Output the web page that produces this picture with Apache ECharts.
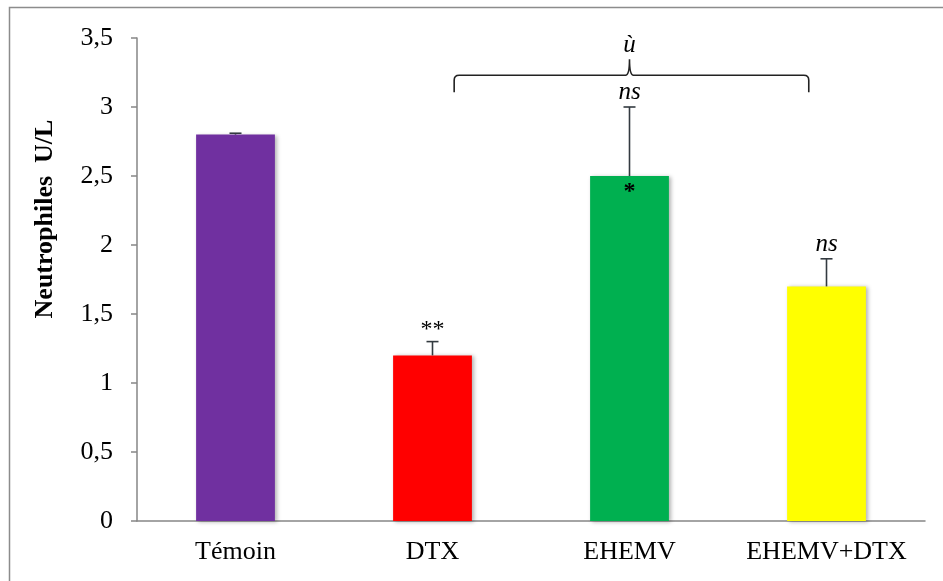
<!DOCTYPE html>
<html>
<head>
<meta charset="utf-8">
<script src="https://cdn.jsdelivr.net/npm/echarts@6/dist/echarts.min.js"></script>
<style>
  html, body { margin: 0; padding: 0; background: #fff; }
  #chart { width: 943px; height: 581px; }
</style>
</head>
<body>
<div id="chart"></div>
<script>
// Neutrophil counts per group (U/L) with upper error bars
var categories = ['Témoin', 'DTX', 'EHEMV', 'EHEMV+DTX'];
var means = [2.8, 1.2, 2.5, 1.7];
var errors = [0.01, 0.1, 0.5, 0.2];
var barColors = ['#7030A0', '#FF0000', '#00B050', '#FFFF00'];
var sigAbove = ['', '**', 'ns', 'ns'];   // printed above each error bar
var sigInside = ['', '', '*', ''];       // printed just inside the top of the bar
var yTicks = { min: 0, max: 3.5, interval: 0.5 };
var yTitle = 'Neutrophiles  U/L';
// bracket comparing DTX with EHEMV+DTX, labelled at its middle
var bracket = { from: 1, to: 3, mid: 2, level: 3.23, label: 'ù' };

var serif = '"Liberation Serif", "Times New Roman", serif';

var chart = echarts.init(document.getElementById('chart'));

function errorItem(params, api) {
  var i = api.value(0);
  var top = api.coord([i, api.value(1) + api.value(2)]);
  var base = api.coord([i, api.value(1)]);
  var half = 6;
  var children = [
    { type: 'line', shape: { x1: base[0], y1: base[1], x2: top[0], y2: top[1] },
      style: { stroke: '#333a40', lineWidth: 1.6 } },
    { type: 'line', shape: { x1: top[0] - half, y1: top[1], x2: top[0] + half, y2: top[1] },
      style: { stroke: '#333a40', lineWidth: 1.6 } }
  ];
  if (sigAbove[i]) {
    var isNs = sigAbove[i] === 'ns';
    children.push({ type: 'text', x: top[0], y: top[1] - (isNs ? 2 : 0),
      style: { text: sigAbove[i], fill: '#000', font: (isNs ? 'italic 25px ' : '24px ') + serif,
               align: 'center', verticalAlign: 'bottom' } });
  }
  if (sigInside[i]) {
    children.push({ type: 'text', x: base[0], y: base[1] + 4,
      style: { text: sigInside[i], fill: '#000', font: 'bold 24px ' + serif,
               align: 'center', verticalAlign: 'top' } });
  }
  return { type: 'group', children: children };
}

function bracketItem(params, api) {
  var band = api.size([1, 0])[0];
  var x0 = api.coord([bracket.from, 0])[0] + 0.11 * band;
  var x1 = api.coord([bracket.to, 0])[0] - 0.09 * band;
  var xm = api.coord([bracket.mid, 0])[0];
  var y = api.coord([0, bracket.level])[1];
  var leg = 17, peak = 16, r = 5;
  var path = 'M' + x0 + ' ' + (y + leg) +
    ' L' + x0 + ' ' + (y + r) + ' Q' + x0 + ' ' + y + ' ' + (x0 + r) + ' ' + y +
    ' L' + (xm - 4) + ' ' + y + ' Q' + xm + ' ' + y + ' ' + xm + ' ' + (y - peak) +
    ' Q' + xm + ' ' + y + ' ' + (xm + 4) + ' ' + y +
    ' L' + (x1 - r) + ' ' + y + ' Q' + x1 + ' ' + y + ' ' + x1 + ' ' + (y + r) +
    ' L' + x1 + ' ' + (y + leg);
  return { type: 'group', children: [
    { type: 'path', shape: { pathData: path }, style: { stroke: '#222', lineWidth: 1.6, fill: null } },
    { type: 'text', x: xm, y: y - peak - 1,
      style: { text: bracket.label, fill: '#000', font: 'italic 25px ' + serif, align: 'center', verticalAlign: 'bottom' } }
  ] };
}

chart.setOption({
  animation: false,
  backgroundColor: '#fff',
  grid: { left: 137, right: 18, top: 38, bottom: 60 },
  graphic: [
    { type: 'rect', shape: { x: 9.5, y: 7.5, width: 940, height: 580 },
      style: { fill: null, stroke: '#8c8c8c', lineWidth: 1.5 }, silent: true, z: -1 },
    { type: 'text', x: 45, y: 219, rotation: Math.PI / 2,
      style: { text: yTitle, fill: '#000', font: 'bold 26px ' + serif, align: 'center', verticalAlign: 'middle' } }
  ],
  xAxis: {
    type: 'category', data: categories,
    axisLine: { lineStyle: { color: '#868686', width: 1.5 } },
    axisTick: { show: false },
    axisLabel: { color: '#000', fontFamily: serif, fontSize: 26, margin: 18, interval: 0, hideOverlap: false }
  },
  yAxis: {
    type: 'value', min: yTicks.min, max: yTicks.max, interval: yTicks.interval,
    axisLine: { show: true, lineStyle: { color: '#868686', width: 1.5 } },
    axisTick: { show: true, length: 6, lineStyle: { color: '#868686', width: 1.5 } },
    splitLine: { show: false },
    axisLabel: { color: '#000', fontFamily: serif, fontSize: 26, margin: 24,
      formatter: function (v) { return String(v).replace('.', ','); } }
  },
  series: [
    {
      type: 'bar', barWidth: '40%',
      data: means.map(function (v, i) {
        return { value: v, itemStyle: { color: barColors[i] } };
      }),
      itemStyle: { shadowBlur: 4, shadowOffsetX: 2, shadowOffsetY: 1, shadowColor: 'rgba(0,0,0,0.3)' }
    },
    {
      type: 'custom', renderItem: errorItem, z: 5,
      data: means.map(function (v, i) { return [i, v, errors[i]]; })
    },
    {
      type: 'custom', renderItem: bracketItem, z: 5,
      data: [[bracket.mid, bracket.level]]
    }
  ]
});
</script>
</body>
</html>
